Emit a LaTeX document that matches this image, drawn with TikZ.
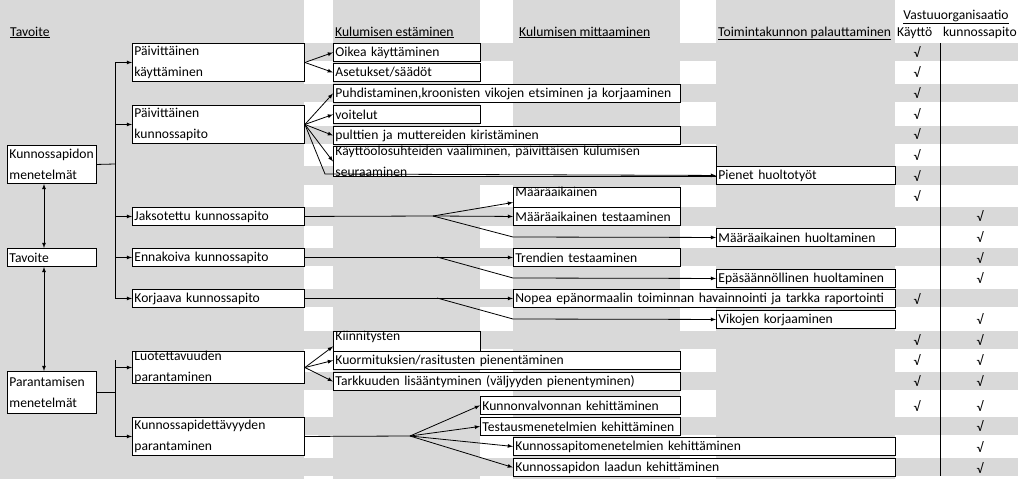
\documentclass[tikz,border=0pt]{standalone}
\usepackage{fontspec}
\setmainfont{Carlito}
\usetikzlibrary{arrows,positioning}

\definecolor{cellgray}{RGB}{217,217,217}
\newcommand\cellfont{\fontsize{13.6}{20.5}\selectfont\hyphenpenalty=10000\relax\exhyphenpenalty=10000\relax}

\tikzset{
  box/.style={draw, fill=white, anchor=north west, inner xsep=2pt, inner ysep=0pt,
    align=left, minimum height=18pt, line width=0.9pt},
  head/.style={anchor=base west, inner sep=0pt},
  link/.style={->, >=latex, line width=0.8pt},
  tick/.style={inner sep=0pt}
}

\begin{document}
\begin{tikzpicture}[x=1pt, y=-1pt, font=\cellfont]

\useasboundingbox (0,0) rectangle (1024,479);

% spreadsheet background
\fill[cellgray] (0,0) rectangle (304,479);
\fill[cellgray] (333,0) rectangle (480,479);
\fill[cellgray] (513,0) rectangle (680,479);
\fill[cellgray] (716,0) rectangle (895,479);
\foreach \t/\b in {43/61, 84/102, 126/144, 166/185, 207/226, 248/266, 289/307, 331/349, 372/390, 417/435, 458/476}
    \fill[cellgray] (0,\t) rectangle (1018,\b);

% headers
\node[head] (h0) at (10,36) {\underline{Tavoite}};
\node[head] (h1) at (335,36) {\underline{Kulumisen estäminen}};
\node[head] (h2) at (519,36) {\underline{Kulumisen mittaaminen}};
\node[head] (h3) at (718,36) {\underline{Toimintakunnon palauttaminen}};
\node[head] (h4) at (897,36) {Käyttö};
\node[head] (h5) at (943,36) {kunnossapito};
\node[anchor=base, inner sep=0pt] (h6) at (956,19) {\underline{Vastuuorganisaatio}};

% goals
\node[box, text width=85pt, minimum height=38pt] (kun) at (7,145) {Kunnossapidon\\menetelmät};
\node[box, text width=85pt] (tav) at (7,248) {Tavoite};
\node[box, text width=85pt, minimum height=42pt] (par) at (7,371) {Parantamisen\\menetelmät};

% methods
\node[box, text width=168pt, minimum height=38pt] (pk) at (132,43) {Päivittäinen\\käyttäminen};
\node[box, text width=168pt, minimum height=38pt] (pkp) at (132,105) {Päivittäinen\\kunnossapito};
\node[box, text width=168pt] (jak) at (132,207) {Jaksotettu kunnossapito};
\node[box, text width=168pt] (enn) at (132,248) {Ennakoiva kunnossapito};
\node[box, text width=168pt] (kor) at (132,289) {Korjaava kunnossapito};
\node[box, text width=168pt] (luo) at (132,351) {Luotettavuuden parantaminen};
\node[box, text width=168pt, minimum height=38pt] (kpd) at (132,417) {Kunnossapidettävyyden\\parantaminen};

% actions
\node[box, text width=143pt] (oik) at (333,43) {Oikea käyttäminen};
\node[box, text width=143pt] (ase) at (333,63) {Asetukset/säädöt};
\node[box, text width=343pt] (puh) at (333,84) {Puhdistaminen,kroonisten vikojen etsiminen ja korjaaminen};
\node[box, text width=143pt] (voi) at (333,105) {voitelut};
\node[box, text width=343pt] (pul) at (333,126) {pulttien ja muttereiden kiristäminen};
\node[box, text width=379pt] (kay) at (333,146) {Käyttöolosuhteiden vaaliminen, päivittäisen kulumisen seuraaminen};
\node[box, text width=175pt] (pie) at (716,166) {Pienet huoltotyöt};
\node[box, text width=163pt] (mta) at (513,187) {Määräaikainen tarkastaminen};
\node[box, text width=163pt] (mte) at (513,207) {Määräaikainen testaaminen};
\node[box, text width=175pt] (mhu) at (716,228) {Määräaikainen huoltaminen};
\node[box, text width=163pt] (tre) at (513,248) {Trendien testaaminen};
\node[box, text width=175pt] (epa) at (716,269) {Epäsäännöllinen huoltaminen};
\node[box, text width=378pt] (nop) at (513,289) {Nopea epänormaalin toiminnan havainnointi ja tarkka raportointi};
\node[box, text width=175pt] (vik) at (716,310) {Vikojen korjaaminen};
\node[box, text width=143pt] (kii) at (333,331) {Kiinnitysten tarkastaminen};
\node[box, text width=343pt] (kuo) at (333,351) {Kuormituksien/rasitusten pienentäminen};
\node[box, text width=343pt] (tar) at (333,372) {Tarkkuuden lisääntyminen (väljyyden pienentyminen)};
\node[box, text width=196pt] (kva) at (480,396) {Kunnonvalvonnan kehittäminen};
\node[box, text width=196pt] (tes) at (480,417) {Testausmenetelmien kehittäminen};
\node[box, text width=378pt] (kme) at (513,437) {Kunnossapitomenetelmien kehittäminen};
\node[box, text width=378pt] (kla) at (513,458) {Kunnossapidon laadun kehittäminen};

% responsibility
\draw[line width=0.9pt] (940,43) -- (940,476);
\foreach \y in {52,72,93,114,134,155,176,196,299,340,360,381,406}
    \node[tick] at (917,\y) {√};
\foreach \y in {216,237,258,278,319,340,360,381,406,426,447,468}
    \node[tick] at (980,\y) {√};

% goal links
\draw[<->, >=latex, line width=0.8pt] (kun.south -| 44,0) -- (tav.north -| 44,0);
\draw[<->, >=latex, line width=0.8pt] (tav.south -| 44,0) -- (par.north -| 44,0);

\coordinate (b1) at (115,164);
\draw[line width=0.8pt] (kun.east) -- (b1);
\draw[line width=0.8pt] (115,62) -- (115,298);
\foreach \n in {pk,pkp,jak,enn,kor}
    \draw[link] (\n.west -| b1) -- (\n.west);

\coordinate (b2) at (115,392);
\draw[line width=0.8pt] (par.east |- b2) -- (b2);
\draw[line width=0.8pt] (115,360) -- (115,436);
\foreach \n in {luo,kpd}
    \draw[link] (\n.west -| b2) -- (\n.west);

% action links
\foreach \n in {oik,ase}
    \draw[link] (pk.east) -- (\n.west);
\foreach \n in {puh,voi,pul,kay}
    \draw[link] (pkp.east) -- (\n.west);
\draw[link] (pkp.east) -- (325,174) -- (pie.west);

\coordinate (f1) at (433,216);
\draw[line width=0.8pt] (jak.east) -- (f1);
\draw[link] (f1) -- (mta.west);
\draw[link] (f1) -- (mte.west);
\draw[link] (f1) -- (513,237) -- (mhu.west);

\coordinate (f2) at (437,257);
\draw[link] (enn.east) -- (tre.west);
\draw[link] (f2) -- (513,278) -- (epa.west);

\coordinate (f3) at (437,298);
\draw[link] (kor.east) -- (nop.west);
\draw[link] (f3) -- (513,319) -- (vik.west);

\foreach \n in {kii,kuo,tar}
    \draw[link] (luo.east) -- (\n.west);

\coordinate (f4) at (410,436);
\draw[line width=0.8pt] (kpd.east) -- (f4);
\foreach \n in {kva,tes,kme,kla}
    \draw[link] (f4) -- (\n.west);

\end{tikzpicture}
\end{document}
